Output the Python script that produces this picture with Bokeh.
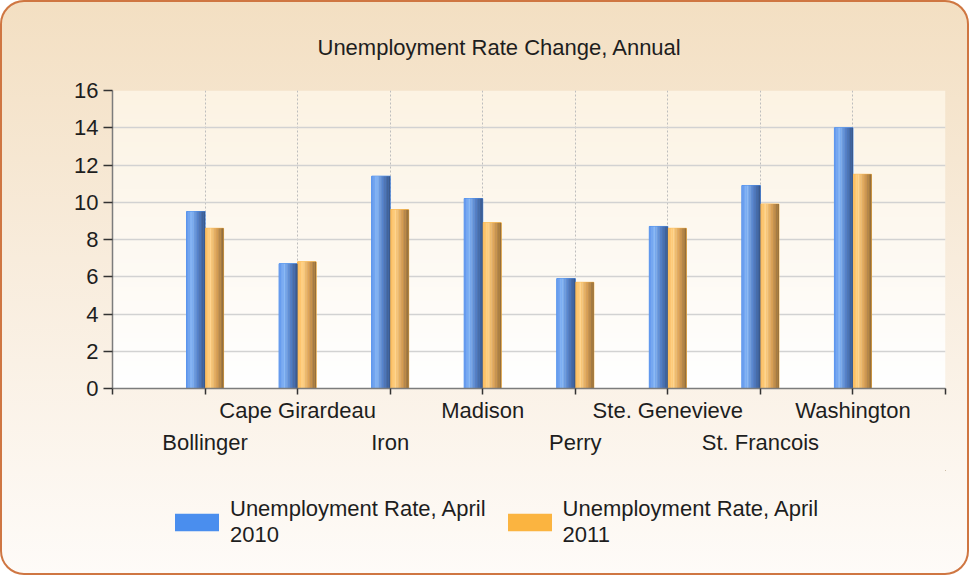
import numpy as np
from bokeh.plotting import figure
from bokeh.layouts import column
from bokeh.models import (ColumnDataSource, FixedTicker, Legend, LegendItem, Range1d)
from bokeh.transform import dodge
from bokeh.embed import file_html
from bokeh.resources import INLINE

# ---------------- data ----------------
counties = ["Bollinger", "Cape Girardeau", "Iron", "Madison", "Perry",
            "Ste. Genevieve", "St. Francois", "Washington"]
rate_2010 = [9.5, 6.7, 11.4, 10.2, 5.9, 8.7, 10.9, 14.0]
rate_2011 = [8.6, 6.8, 9.6, 8.9, 5.7, 8.6, 9.9, 11.5]
series_names = ["Unemployment Rate, April\n2010", "Unemployment Rate, April\n2011"]
y_ticks = [0, 2, 4, 6, 8, 10, 12, 14, 16]
title_text = "Unemployment Rate Change, Annual"

# ---------------- styling ----------------
FONT = "Liberation Sans"
FS = "22px"
TXT = "#1e1e1e"
BLUE_FLAT = "#4a8eee"
ORANGE_FLAT = "#fbb440"
BAR_W = 0.2
N_STRIPS = 12
blue_stops = [(0.0, (98, 150, 235)), (0.28, (142, 187, 246)), (0.62, (88, 128, 195)), (1.0, (55, 84, 132))]
orange_stops = [(0.0, (250, 186, 90)), (0.28, (255, 214, 145)), (0.62, (214, 160, 92)), (1.0, (140, 105, 58))]


def interp(stops, t):
    for (t0, c0), (t1, c1) in zip(stops[:-1], stops[1:]):
        if t <= t1:
            f = (t - t0) / (t1 - t0)
            c = [int(round(a + (b - a) * f)) for a, b in zip(c0, c1)]
            return "#%02x%02x%02x" % tuple(c)
    return "#%02x%02x%02x" % stops[-1][1]


n = len(counties)
xs = list(range(1, n + 1))
x_lo, x_hi = 0, n + 1
y_lo, y_hi = y_ticks[0], y_ticks[-1]

src = ColumnDataSource(dict(x=xs, v2010=rate_2010, v2011=rate_2011, name=counties))

W = 969
p = figure(width=W, height=470, output_backend="svg", toolbar_location=None,
           x_range=Range1d(x_lo, x_hi), y_range=Range1d(y_lo, y_hi),
           min_border_left=112, min_border_right=24, min_border_top=90, min_border_bottom=82)
p.border_fill_color = None
p.background_fill_color = None
p.outline_line_color = None

# title
p.title.text = title_text
p.title.align = "left"
p.title.offset = 205
p.title.standoff = 62
p.title.text_font = FONT
p.title.text_font_size = FS
p.title.text_font_style = "normal"
p.title.text_color = TXT

# frame gradient background
H = 64
grad = np.zeros((H, 1), dtype=np.uint32)
view = grad.view(dtype=np.uint8).reshape((H, 1, 4))
top_c = np.array([252, 243, 227])
bot_c = np.array([255, 255, 255])
for i in range(H):
    f = i / (H - 1)  # row 0 is bottom
    c = bot_c + (top_c - bot_c) * f
    view[i, 0, 0:3] = c.astype(np.uint8)
    view[i, 0, 3] = 255
p.image_rgba(image=[grad], x=x_lo, y=y_lo, dw=x_hi - x_lo, dh=y_hi - y_lo, level="image")

# bars: flat base + shaded strips
p.vbar(x=dodge("x", -BAR_W / 2, range=p.x_range), top="v2010", width=BAR_W,
       fill_color=BLUE_FLAT, line_color=BLUE_FLAT, source=src)
p.vbar(x=dodge("x", BAR_W / 2, range=p.x_range), top="v2011", width=BAR_W,
       fill_color=ORANGE_FLAT, line_color=ORANGE_FLAT, source=src)
sw = BAR_W / N_STRIPS
for k in range(N_STRIPS):
    t = (k + 0.5) / N_STRIPS
    off_b = -BAR_W + (k + 0.5) * sw
    off_o = (k + 0.5) * sw
    p.vbar(x=dodge("x", off_b, range=p.x_range), top="v2010", width=sw * 1.04,
           fill_color=interp(blue_stops, t), line_color=None, source=src)
    p.vbar(x=dodge("x", off_o, range=p.x_range), top="v2011", width=sw * 1.04,
           fill_color=interp(orange_stops, t), line_color=None, source=src)

# axes
xa = p.xaxis[0]
xa.ticker = FixedTicker(ticks=list(range(x_lo, x_hi + 1)))
overrides = {x_lo: "", x_hi: ""}
for i, name in enumerate(counties):
    overrides[i + 1] = ("\n" + name) if i % 2 == 0 else name
xa.major_label_overrides = overrides
xa.major_label_text_line_height = 1.29
xa.major_label_standoff = 3
xa.major_tick_out = 6
xa.major_tick_in = 0
xa.minor_tick_line_color = None

ya = p.yaxis[0]
ya.ticker = FixedTicker(ticks=y_ticks)
ya.major_tick_out = 9
ya.major_tick_in = 0
ya.major_label_standoff = 5
ya.minor_tick_line_color = None

for ax in (xa, ya):
    ax.axis_line_color = "#7c7c7c"
    ax.axis_line_width = 1.5
    ax.major_tick_line_color = "#333333"
    ax.major_tick_line_width = 1.5
    ax.major_label_text_font = FONT
    ax.major_label_text_font_size = FS
    ax.major_label_text_color = TXT

# grids
p.ygrid.ticker = FixedTicker(ticks=y_ticks)
p.ygrid.grid_line_color = "#d2d2d2"
p.ygrid.grid_line_width = 1.6
p.xgrid.ticker = FixedTicker(ticks=list(range(x_lo + 1, x_hi + 1)))
p.xgrid.grid_line_color = "#bdbdbd"
p.xgrid.grid_line_dash = "2 2"
p.xgrid.grid_line_width = 1

# legend strip (separate figure below the chart; its frame aligns with the chart frame)
LH = 105
lg = figure(width=W, height=LH, output_backend="svg", toolbar_location=None,
            x_range=Range1d(-3, -2), y_range=Range1d(-3, -2),
            x_axis_type=None, y_axis_type=None,
            min_border_left=0, min_border_right=0, min_border_top=0, min_border_bottom=0)
lg.border_fill_color = None
lg.background_fill_color = None
lg.outline_line_color = None
lg.grid.visible = False
# legend-key renderers (their bars fall outside this strip's ranges, so only the keys show)
lr_blue = lg.vbar(x="x", top="v2010", width=0, fill_color=BLUE_FLAT, line_color=None, source=src)
lr_orange = lg.vbar(x="x", top="v2011", width=0, fill_color=ORANGE_FLAT, line_color=None, source=src)
legend = Legend(items=[LegendItem(label=series_names[0], renderers=[lr_blue]),
                       LegendItem(label=series_names[1], renderers=[lr_orange])],
                location=(57, 27), orientation="horizontal",
                glyph_width=55, glyph_height=22, label_standoff=6, spacing=16,
                padding=0, margin=0, border_line_color=None, background_fill_alpha=0,
                label_text_font=FONT, label_text_font_size=FS, label_text_color=TXT,
                label_text_line_height=1.0)
lg.add_layout(legend)

layout = column(p, lg, spacing=0)
layout.styles = {
    "background": "linear-gradient(180deg, #f3dfc2 0%, #f8ecdc 45%, #fefbf8 100%)",
    "border-radius": "24px",
    "box-shadow": "inset 0 0 0 2px #cf7642",
}

open("out.html", "w").write(file_html(layout, INLINE))
